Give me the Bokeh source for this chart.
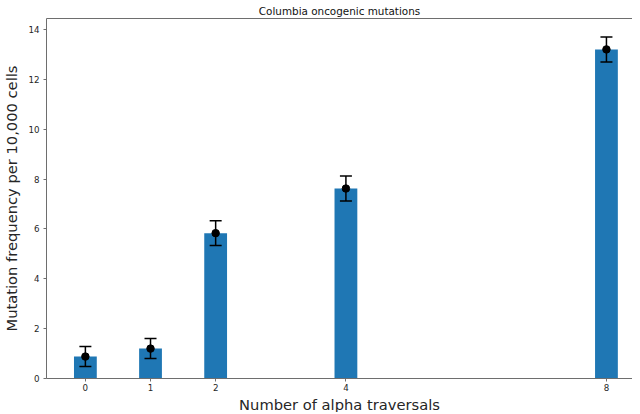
from bokeh.plotting import figure
from bokeh.models import (Range1d, FixedTicker, LinearAxis, Whisker, TeeHead,
                          ColumnDataSource, Title)
from bokeh.embed import file_html
from bokeh.resources import INLINE

# Data
traversals = [0, 1, 2, 4, 8]
frequency = [0.88, 1.2, 5.83, 7.62, 13.2]
error = [0.4, 0.4, 0.5, 0.5, 0.5]
y_ticks = [0, 2, 4, 6, 8, 10, 12, 14]

lower = [f - e for f, e in zip(frequency, error)]
upper = [f + e for f, e in zip(frequency, error)]
src = ColumnDataSource(dict(x=traversals, top=frequency, lower=lower, upper=upper))

FONT = "DejaVu Sans"
SPINE = "#6e6e6e"
TEXT = "#262626"

p = figure(width=632, height=412, output_backend="svg", toolbar_location=None,
           x_range=Range1d(-0.597, 8.40), y_range=Range1d(0, 14.44),
           min_border_left=46, min_border_right=0, min_border_top=0, min_border_bottom=0)
p.title = Title(text="Columbia oncogenic mutations", align="center",
                text_font=FONT, text_font_size="10.4px", text_font_style="normal",
                text_color="#111111", standoff=4, offset=0)
p.outline_line_color = None
p.xgrid.visible = False
p.ygrid.visible = False
p.background_fill_color = "white"
p.border_fill_color = "white"

p.vbar(x="x", top="top", width=0.35, source=src, fill_color="#1f77b4", line_color=None)
w = Whisker(base="x", lower="lower", upper="upper", source=src, level="overlay",
            line_color="black", line_width=1.5,
            upper_head=TeeHead(size=12, line_color="black", line_width=1.5),
            lower_head=TeeHead(size=12, line_color="black", line_width=1.5))
p.add_layout(w)
p.scatter(x="x", y="top", source=src, size=7.5, fill_color="black", line_color="black",
          level="overlay")

for ax in (p.xaxis[0], p.yaxis[0]):
    ax.axis_line_color = SPINE
    ax.axis_line_width = 1
    ax.major_tick_line_color = SPINE
    ax.major_tick_out = 3
    ax.major_tick_in = 0
    ax.minor_tick_line_color = None
    ax.major_label_text_font = FONT
    ax.major_label_text_font_size = "8.7px"
    ax.major_label_text_color = TEXT
    ax.axis_label_text_font = FONT
    ax.axis_label_text_font_size = "14.7px"
    ax.axis_label_text_font_style = "normal"
    ax.axis_label_text_color = TEXT

p.xaxis.ticker = FixedTicker(ticks=traversals)
p.yaxis.ticker = FixedTicker(ticks=y_ticks)
p.yaxis.axis_label = "Mutation frequency per 10,000 cells"
p.xaxis.major_label_standoff = 2
p.yaxis.major_label_standoff = 4
p.yaxis.axis_label_standoff = 5

xlabel = Title(text="Number of alpha traversals", align="center", text_font=FONT,
               text_font_size="14.7px", text_font_style="normal", text_color=TEXT,
               standoff=0, offset=0)
p.add_layout(xlabel, "below")

top_axis = LinearAxis(ticker=FixedTicker(ticks=[]), axis_line_color=SPINE,
                      axis_line_width=1, major_tick_line_color=None,
                      minor_tick_line_color=None, major_label_text_color=None,
                      major_label_standoff=0)
p.add_layout(top_axis, "above")

open("out.html", "w").write(file_html(p, INLINE))
